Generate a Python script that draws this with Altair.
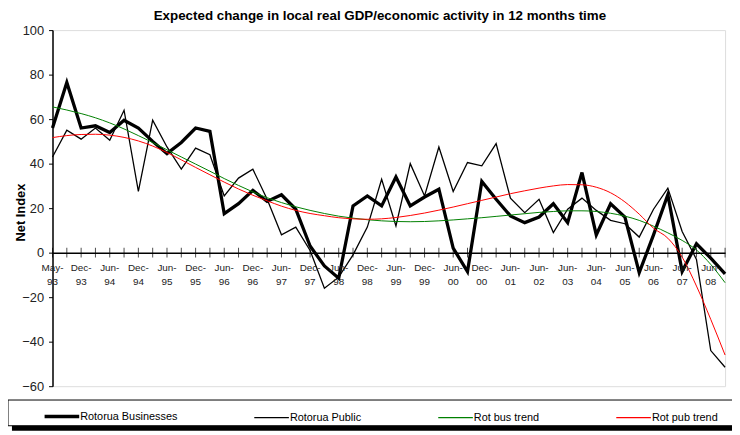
import altair as alt
import pandas as pd

# Category labels (quarterly to 2001, then half-yearly)
labels = ["May-93", "Sep-93", "Dec-93", "Mar-94", "Jun-94", "Sep-94", "Dec-94", "Mar-95",
          "Jun-95", "Sep-95", "Dec-95", "Mar-96", "Jun-96", "Sep-96", "Dec-96", "Mar-97",
          "Jun-97", "Sep-97", "Dec-97", "Mar-98", "Jun-98", "Sep-98", "Dec-98", "Mar-99",
          "Jun-99", "Sep-99", "Dec-99", "Mar-00", "Jun-00", "Sep-00", "Dec-00", "Mar-01",
          "Jun-01", "Dec-01", "Jun-02", "Dec-02", "Jun-03", "Dec-03", "Jun-04", "Dec-04",
          "Jun-05", "Dec-05", "Jun-06", "Dec-06", "Jun-07", "Dec-07", "Jun-08", "Dec-08"]

rotorua_businesses = [56, 76.5, 56, 57, 54, 59.5, 56, 50, 44.5, 49.5, 56, 54.5,
                      17.5, 22, 28, 23, 26, 19.5, 3, -6, -11.5, 21, 25.5, 21,
                      34, 21, 25, 28.5, 2, -8.5, 32, 24, 16.5, 13.5, 16, 22,
                      13.5, 36, 8, 22, 16, -9, 8, 26, -8.5, 4, -2.5, -9.5]

rotorua_public = [43, 55, 51, 56, 50.5, 64, 27.5, 59.5, 47.5, 37.5, 47, 44,
                  25.5, 33.5, 37.5, 24, 8, 11.5, 1, -16, -11, -1, 11.5, 33,
                  12, 40, 25.5, 47.5, 27.5, 40.5, 39, 49, 24.5, 18, 24, 9,
                  19.5, 24.5, 19, 14.5, 13, 7, 19.5, 29, 9.5, -3, -44, -51.5]

rot_bus_trend = [65.5, 64.1, 62.5, 60.6, 58.3, 55.6, 52.6, 49.5, 46.2, 43, 39.8, 36.6,
                 33.3, 30.2, 27.3, 24.7, 22.5, 20.6, 19, 17.6, 16.4, 15.5, 14.8, 14.3,
                 14, 13.9, 14, 14.3, 14.7, 15.2, 15.7, 16.3, 16.9, 17.5, 18.1, 18.5,
                 18.8, 18.8, 18.5, 17.7, 16.4, 14.5, 11.9, 8.9, 5.5, 1.2, -5.3, -13.5]

rot_pub_trend = [51.7, 52.6, 53.1, 53.2, 52.8, 51.8, 50.2, 47.9, 45, 41.7, 38.3, 35,
                 31.7, 28.6, 25.8, 23.3, 20.9, 19.0, 17.6, 16.6, 15.7, 15.2, 15, 15.2,
                 15.8, 16.7, 17.8, 19.1, 20.5, 22, 23.5, 25, 26.5, 27.8, 29, 30,
                 30.6, 30.5, 29.4, 26.9, 22.8, 17.3, 11, 6.5, -2, -15, -30, -46]

series_names = ["Rotorua Businesses", "Rotorua Public", "Rot bus trend", "Rot pub trend"]
series_colors = ["#000000", "#000000", "#008000", "#ff0000"]
y_ticks = [-60, -40, -20, 0, 20, 40, 60, 80, 100]

n = len(labels)
idx = list(range(n))

raw_df = pd.DataFrame({
    "idx": idx * 2,
    "series": [series_names[0]] * n + [series_names[1]] * n,
    "value": rotorua_businesses + rotorua_public,
})
trend_df = pd.DataFrame({
    "idx": idx * 2,
    "series": [series_names[2]] * n + [series_names[3]] * n,
    "value": rot_bus_trend + rot_pub_trend,
})
tick_df = pd.DataFrame({"idx": idx, "zero": [0] * n})
label_df = pd.DataFrame({
    "idx": idx[::2],
    "zero": [0] * len(idx[::2]),
    "text": [labels[i][:4] + "\n" + labels[i][4:] for i in idx[::2]],
})
one_df = pd.DataFrame({"k": [0]})

FONT = "Liberation Sans"

x_scale = alt.Scale(domain=[0, n - 1], nice=False, zero=False)
y_scale = alt.Scale(domain=[-60, 100], nice=False, zero=False)

x_enc = alt.X("idx:Q", scale=x_scale, axis=alt.Axis(
    orient="bottom", offset=-135, values=idx[::2], labels=False,
    ticks=False, tickSize=0, domainColor="black", domainWidth=1.5,
    title=None, grid=False, zindex=1))

y_enc = alt.Y("value:Q", scale=y_scale, axis=alt.Axis(
    values=y_ticks, tickSize=4, tickColor="black", domainColor="black",
    domainWidth=1.5, labelFont=FONT, labelFontSize=13, labelColor="#222222",
    labelPadding=5, title="Net Index", titleFont=FONT, titleFontSize=13,
    titleFontWeight="bold", titleColor="black", titleX=-28, titleY=184,
    titleBaseline="alphabetic", titleAlign="center", grid=False))

color_enc = alt.Color("series:N", scale=alt.Scale(domain=series_names, range=series_colors),
                      legend=alt.Legend(
                          orient="none", legendX=-9, legendY=372, direction="horizontal",
                          columns=4, columnPadding=74, symbolType="stroke",
                          symbolSize=1225,
                          symbolStrokeWidth={"expr": "(datum.value === 'Rotorua Businesses' ? 3.5 : 1.3)"},
                          labelFont=FONT, labelFontSize=11,
                          labelColor="black", labelOffset=0, title=None, padding=0))

legend_box = alt.Chart(one_df).mark_rect(fill="white", stroke="black", strokeWidth=1).encode(
    x=alt.value(-45), x2=alt.value(720), y=alt.value(374), y2=alt.value(400))
legend_shadow = alt.Chart(one_df).mark_rect(fill="black").encode(
    x=alt.value(-41), x2=alt.value(720), y=alt.value(400), y2=alt.value(405))

raw_lines = alt.Chart(raw_df).mark_line().encode(
    x=x_enc, y=y_enc, color=color_enc, detail="series:N",
    strokeWidth=alt.condition(alt.datum.series == series_names[0], alt.value(3.3), alt.value(1.3)))
trend_lines = alt.Chart(trend_df).mark_line(interpolate="monotone", strokeWidth=1).encode(
    x=x_enc, y=y_enc, color=color_enc, detail="series:N")
ticks = alt.Chart(tick_df).mark_tick(orient="vertical", color="black", size=10, thickness=1).encode(
    x=alt.X("idx:Q", scale=x_scale), y=alt.Y("zero:Q", scale=y_scale))
x_labels = alt.Chart(label_df).mark_text(
    baseline="top", align="center", dy=11, lineBreak="\n", lineHeight=14,
    font=FONT, fontSize=10, color="#222222").encode(
    x=alt.X("idx:Q", scale=x_scale), y=alt.Y("zero:Q", scale=y_scale), text="text:N")

chart = alt.layer(legend_box, legend_shadow, raw_lines, trend_lines, ticks, x_labels).properties(
    width=680, height=360,
    padding={"left": 45, "top": 20, "right": 7, "bottom": 47},
    autosize=alt.AutoSizeParams(type="none"),
    title=alt.Title("Expected change in local real GDP/economic activity in 12 months time",
                    font=FONT, fontSize=13.5, fontWeight="bold", color="black",
                    anchor="middle", frame="group", dx=-9, offset=2),
).configure_view(stroke="#888888", strokeWidth=1).configure(background="white")

chart.save("out.html", embed_options={"renderer": "svg", "actions": False})
